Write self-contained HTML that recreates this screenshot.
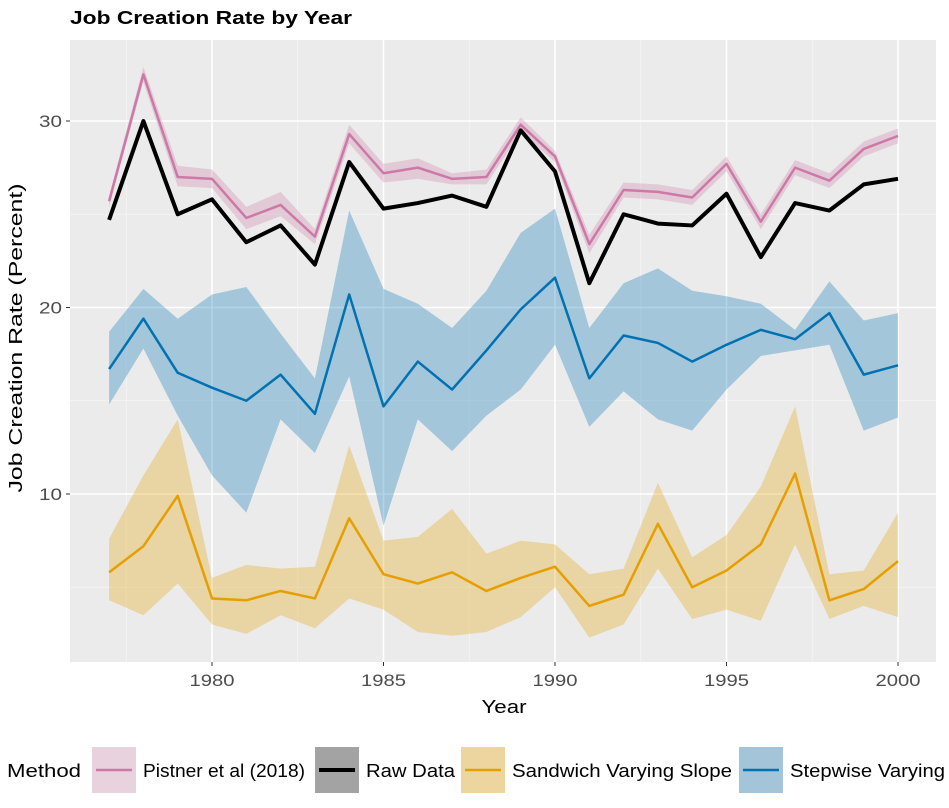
<!DOCTYPE html>
<html><head><meta charset="utf-8"><style>
body{margin:0;background:#fff;font-family:"Liberation Sans",sans-serif;}
svg text{font-family:"Liberation Sans",sans-serif;}
</style></head><body>
<svg width="949" height="803" viewBox="0 0 949 803" xmlns="http://www.w3.org/2000/svg">
<text x="70" y="24" font-size="18" font-weight="bold" fill="#000" textLength="282" lengthAdjust="spacingAndGlyphs">Job Creation Rate by Year</text>
<rect x="70" y="40" width="866" height="622" fill="#ebebeb"/>
<g id="grid"></g>
<g id="ribbons"></g>
<g id="lines"></g>
<g id="axes"></g>
<text transform="translate(22,338) rotate(-90)" text-anchor="middle" font-size="18" fill="#000" textLength="309" lengthAdjust="spacingAndGlyphs">Job Creation Rate (Percent)</text>
<text x="504" y="713" text-anchor="middle" font-size="18" fill="#000" textLength="45" lengthAdjust="spacingAndGlyphs">Year</text>
<g>
<text x="7" y="777" font-size="18" fill="#000" textLength="74" lengthAdjust="spacingAndGlyphs">Method</text>
<g><rect x="92" y="747" width="44" height="46" fill="#e7d2dd"/><line x1="96" y1="770" x2="132" y2="770" stroke="#cc79a7" stroke-width="2.5"/><text x="143" y="777" font-size="18" textLength="162" lengthAdjust="spacingAndGlyphs">Pistner et al (2018)</text></g>
<g><rect x="315" y="747" width="44" height="46" fill="#a3a3a3"/><line x1="319" y1="770" x2="355" y2="770" stroke="#000" stroke-width="4"/><text x="366" y="777" font-size="18" textLength="89" lengthAdjust="spacingAndGlyphs">Raw Data</text></g>
<g><rect x="461" y="747" width="44" height="46" fill="#ecd59f"/><line x1="465" y1="770" x2="501" y2="770" stroke="#e69f00" stroke-width="2.5"/><text x="512" y="777" font-size="18" textLength="220" lengthAdjust="spacingAndGlyphs">Sandwich Varying Slope</text></g>
<g><rect x="739" y="747" width="44" height="46" fill="#a3c4d9"/><line x1="743" y1="770" x2="779" y2="770" stroke="#0072b2" stroke-width="2.5"/><text x="790" y="777" font-size="18" textLength="155" lengthAdjust="spacingAndGlyphs">Stepwise Varying</text></g>
</g>
</svg>
<script>
const years=[1977,1978,1979,1980,1981,1982,1983,1984,1985,1986,1987,1988,1989,1990,1991,1992,1993,1994,1995,1996,1997,1998,1999,2000];
const rawData=[24.7,30.0,25.0,25.8,23.5,24.4,22.3,27.8,25.3,25.6,26.0,25.4,29.5,27.3,21.3,25.0,24.5,24.4,26.1,22.7,25.6,25.2,26.6,26.9];
const pistner=[25.7,32.5,27.0,26.9,24.8,25.5,23.8,29.3,27.2,27.5,26.9,27.0,29.8,28.1,23.4,26.3,26.2,25.9,27.7,24.6,27.5,26.8,28.5,29.2];
const pistnerLow=[25.4,32.1,26.5,26.4,24.2,24.9,23.4,28.8,26.7,26.9,26.6,26.6,29.4,27.8,22.9,25.9,25.8,25.5,27.3,24.2,27.1,26.4,28.1,28.8];
const pistnerHigh=[26.0,32.9,27.6,27.4,25.4,26.2,24.2,29.8,27.7,28.0,27.2,27.4,30.2,28.4,23.9,26.7,26.6,26.3,28.1,25.0,27.9,27.2,28.9,29.6];
const stepwise=[16.7,19.4,16.5,15.7,15.0,16.4,14.3,20.7,14.7,17.1,15.6,17.7,19.9,21.6,16.2,18.5,18.1,17.1,18.0,18.8,18.3,19.7,16.4,16.9];
const stepwiseLow=[14.8,17.8,14.2,11.0,9.0,14.0,12.2,16.3,8.3,14.0,12.3,14.2,15.6,18.0,13.6,15.5,14.0,13.4,15.6,17.4,17.7,18.0,13.4,14.1];
const stepwiseHigh=[18.7,21.0,19.4,20.7,21.1,18.6,16.2,25.2,21.0,20.2,18.9,20.9,24.0,25.3,18.9,21.3,22.1,20.9,20.6,20.2,18.8,21.4,19.3,19.7];
const sandwich=[5.8,7.2,9.9,4.4,4.3,4.8,4.4,8.7,5.7,5.2,5.8,4.8,5.5,6.1,4.0,4.6,8.4,5.0,5.9,7.3,11.1,4.3,4.9,6.4];
const sandwichLow=[4.3,3.5,5.2,3.0,2.5,3.5,2.8,4.4,3.8,2.6,2.4,2.6,3.4,5.0,2.3,3.0,6.0,3.3,3.8,3.2,7.3,3.3,4.0,3.4];
const sandwichHigh=[7.6,11.0,14.0,5.5,6.2,6.0,6.1,12.6,7.5,7.7,9.2,6.8,7.5,7.3,5.7,6.0,10.6,6.6,7.8,10.4,14.7,5.7,5.9,9.0];
const yTicks=[10,20,30];
const xTicks=[1980,1985,1990,1995,2000];

const NS="http://www.w3.org/2000/svg";
function xs(v){return 212+(v-1980)*34.3;}
function ys(v){return 121+(30-v)*18.65;}
function mk(tag,attrs,parent){const e=document.createElementNS(NS,tag);for(const k in attrs)e.setAttribute(k,attrs[k]);parent.appendChild(e);return e;}
const grid=document.getElementById('grid'),rib=document.getElementById('ribbons'),lin=document.getElementById('lines'),ax=document.getElementById('axes');
[5,15,25,35].forEach(v=>{const y=ys(v);if(y>40&&y<662){const l=mk('line',{x1:70,x2:936,y1:y,y2:y,stroke:'#f5f5f5','stroke-width':0.8},grid);

}});
[1977.5,1982.5,1987.5,1992.5,1997.5].forEach(v=>{const l=mk('line',{x1:xs(v),x2:xs(v),y1:40,y2:662,stroke:'#f5f5f5','stroke-width':0.8},grid);

});
yTicks.forEach(v=>{const y=ys(v);const l=mk('line',{x1:70,x2:936,y1:y,y2:y,stroke:'#fff','stroke-width':1.6},grid);


const t=mk('line',{x1:66,x2:70,y1:y,y2:y,stroke:'#333','stroke-width':1},ax);


const tx=mk('text',{x:62,y:y+6,'text-anchor':'end','font-size':17,fill:'#4d4d4d',textLength:23,lengthAdjust:'spacingAndGlyphs'},ax);tx.textContent=v;

});
xTicks.forEach(v=>{const x=xs(v);const l=mk('line',{x1:x,x2:x,y1:40,y2:662,stroke:'#fff','stroke-width':1.6},grid);


const t=mk('line',{x1:x,x2:x,y1:662,y2:666,stroke:'#333','stroke-width':1},ax);


const tx=mk('text',{x:x,y:686,'text-anchor':'middle','font-size':17,fill:'#4d4d4d',textLength:45,lengthAdjust:'spacingAndGlyphs'},ax);tx.textContent=v;

});
function ribbon(lo,hi,color,name){let d='M'+years.map((y,i)=>xs(y)+','+ys(hi[i])).join('L');
for(let i=years.length-1;i>=0;i--)d+='L'+xs(years[i])+','+ys(lo[i]);d+='Z';
const p=mk('path',{d:d,fill:color,'fill-opacity':0.3,stroke:'none'},rib);

}
function line(vals,color,w,name){const d='M'+years.map((y,i)=>xs(y)+','+ys(vals[i])).join('L');
const p=mk('path',{d:d,fill:'none',stroke:color,'stroke-width':w,'stroke-linejoin':'round'},lin);

}
ribbon(sandwichLow,sandwichHigh,'#e69f00','sandwich-ribbon');
ribbon(stepwiseLow,stepwiseHigh,'#0072b2','stepwise-ribbon');
ribbon(pistnerLow,pistnerHigh,'#cc79a7','pistner-ribbon');
line(sandwich,'#e69f00',2.5,'sandwich-line');
line(stepwise,'#0072b2',2.5,'stepwise-line');
line(pistner,'#cc79a7',2.5,'pistner-line');
line(rawData,'#000',4,'raw-data-line');
</script>
</body></html>
